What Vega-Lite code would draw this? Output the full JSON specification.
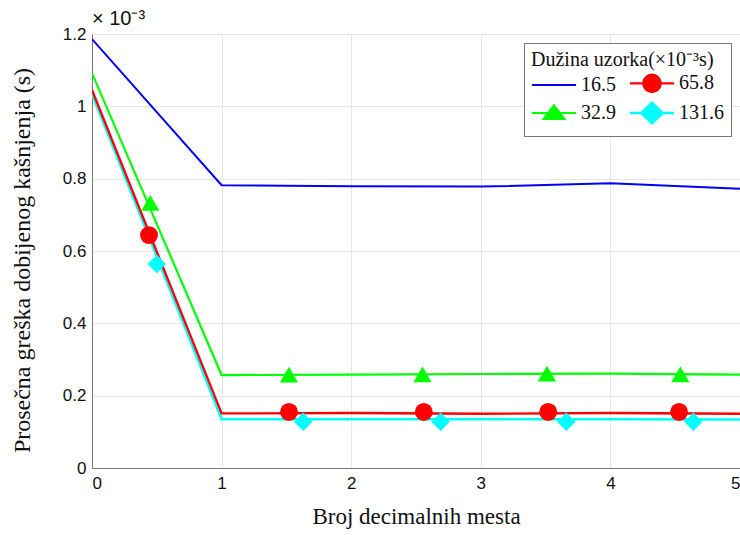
{
  "$schema": "https://vega.github.io/schema/vega-lite/v6.json",
  "width": 648,
  "height": 434,
  "autosize": {"type": "none"},
  "padding": {"left": 92, "top": 34, "right": 0, "bottom": 67},
  "background": "white",
  "config": {
    "view": {"stroke": "#777", "strokeWidth": 1},
    "axis": {
      "labelFont": "Liberation Sans",
      "labelFontSize": 17,
      "labelColor": "#111",
      "titleFont": "Liberation Serif",
      "titleFontSize": 23,
      "titleFontWeight": "normal",
      "titleColor": "#111",
      "domainColor": "#777",
      "gridColor": "#e6e6e6",
      "gridWidth": 1,
      "ticks": false
    }
  },
  "title": {
    "text": "× 10⁻³",
    "anchor": "start",
    "frame": "group",
    "font": "Liberation Sans",
    "fontSize": 20,
    "fontWeight": "normal",
    "color": "#111",
    "offset": -4
  },
  "datasets": {
    "lines": [
      {"x": 0, "y": 1.034, "series": "131.6"},
      {"x": 1, "y": 0.135, "series": "131.6"},
      {"x": 2, "y": 0.135, "series": "131.6"},
      {"x": 3, "y": 0.135, "series": "131.6"},
      {"x": 4, "y": 0.135, "series": "131.6"},
      {"x": 5, "y": 0.134, "series": "131.6"},
      {"x": 0, "y": 1.045, "series": "65.8"},
      {"x": 1, "y": 0.151, "series": "65.8"},
      {"x": 2, "y": 0.152, "series": "65.8"},
      {"x": 3, "y": 0.150, "series": "65.8"},
      {"x": 4, "y": 0.152, "series": "65.8"},
      {"x": 5, "y": 0.150, "series": "65.8"},
      {"x": 0, "y": 1.092, "series": "32.9"},
      {"x": 1, "y": 0.257, "series": "32.9"},
      {"x": 2, "y": 0.258, "series": "32.9"},
      {"x": 3, "y": 0.260, "series": "32.9"},
      {"x": 4, "y": 0.261, "series": "32.9"},
      {"x": 5, "y": 0.258, "series": "32.9"},
      {"x": 0, "y": 1.186, "series": "16.5"},
      {"x": 1, "y": 0.782, "series": "16.5"},
      {"x": 2, "y": 0.779, "series": "16.5"},
      {"x": 3, "y": 0.778, "series": "16.5"},
      {"x": 4, "y": 0.787, "series": "16.5"},
      {"x": 5, "y": 0.772, "series": "16.5"}
    ],
    "markers": [
      {"x": 0.45, "y": 0.733, "series": "32.9"},
      {"x": 1.52, "y": 0.258, "series": "32.9"},
      {"x": 2.55, "y": 0.259, "series": "32.9"},
      {"x": 3.51, "y": 0.261, "series": "32.9"},
      {"x": 4.54, "y": 0.259, "series": "32.9"},
      {"x": 0.44, "y": 0.644, "series": "65.8"},
      {"x": 1.52, "y": 0.155, "series": "65.8"},
      {"x": 2.56, "y": 0.155, "series": "65.8"},
      {"x": 3.52, "y": 0.155, "series": "65.8"},
      {"x": 4.53, "y": 0.155, "series": "65.8"},
      {"x": 0.50, "y": 0.564, "series": "131.6"},
      {"x": 1.63, "y": 0.128, "series": "131.6"},
      {"x": 2.69, "y": 0.128, "series": "131.6"},
      {"x": 3.66, "y": 0.128, "series": "131.6"},
      {"x": 4.64, "y": 0.128, "series": "131.6"}
    ]
  },
  "encoding": {
    "x": {
      "field": "x", "type": "quantitative",
      "scale": {"domain": [0, 5], "nice": false},
      "axis": {"values": [0, 1, 2, 3, 4, 5], "title": "Broj decimalnih mesta", "labelPadding": 7, "titlePadding": 14, "format": "d"}
    },
    "y": {
      "field": "y", "type": "quantitative",
      "scale": {"domain": [0, 1.2], "nice": false},
      "axis": {"values": [0, 0.2, 0.4, 0.6, 0.8, 1, 1.2], "format": ".1~f", "title": "Prosečna greška dobijenog kašnjenja (s)", "titleFont": "Liberation Serif", "titleFontSize": 24, "labelPadding": 6, "titlePadding": 28, "titleY": 226}
    },
    "color": {
      "field": "series", "type": "nominal",
      "scale": {"domain": ["16.5", "32.9", "65.8", "131.6"], "range": ["#0000ff", "#00ff00", "#ff0000", "#00ffff"]}
    }
  },
  "layer": [
    {
      "data": {"name": "lines"},
      "mark": {"type": "line", "clip": true},
      "encoding": {
        "strokeWidth": {
          "field": "series", "type": "nominal",
          "scale": {"domain": ["16.5", "32.9", "65.8", "131.6"], "range": [2, 2.5, 2, 3]},
          "legend": null
        },
        "color": {
          "field": "series", "type": "nominal",
          "legend": {
            "title": "Dužina uzorka(×10⁻³s)",
            "titleLimit": 400,
            "orient": "top-right",
            "offset": 9,
            "columns": 2,
            "columnPadding": 8,
            "rowPadding": 0,
            "padding": 7,
            "fillColor": "white",
            "strokeColor": "#777",
            "cornerRadius": 0,
            "titleFont": "Liberation Serif",
            "titleFontSize": 20,
            "titleFontWeight": "normal",
            "titleColor": "#111",
            "titlePadding": 3,
            "labelFont": "Liberation Serif",
            "labelFontSize": 20,
            "labelColor": "#111",
            "labelOffset": 17,
            "symbolOffset": 13,
            "symbolSize": 289,
            "symbolStrokeWidth": 2.5,
            "encode": {
              "symbols": {
                "update": {
                  "shape": {"signal": "datum.value == '16.5' ? 'M-2.6,0H2.6' : datum.value == '65.8' ? 'M-2.6,0H2.6M1.02,0A1.02,1.02,0,1,1,-1.02,0A1.02,1.02,0,1,1,1.02,0Z' : datum.value == '32.9' ? 'M-2.6,0H2.6M0,-0.9L1.2,0.7L-1.2,0.7Z' : 'M-2.6,0H2.6M0,-1.2L1.25,0L0,1.2L-1.25,0Z'"},
                  "fill": {"scale": "color", "field": "value"},
                  "stroke": {"scale": "color", "field": "value"},
                  "strokeWidth": {"value": 2.5},
                  "opacity": {"value": 1},
                  "fillOpacity": {"value": 1}
                }
              }
            }
          }
        }
      }
    },
    {
      "data": {"name": "markers"},
      "mark": {"type": "point", "filled": true, "opacity": 1, "clip": true},
      "encoding": {
        "shape": {
          "field": "series", "type": "nominal",
          "scale": {"domain": ["65.8", "32.9", "131.6"], "range": ["circle", "triangle-up", "diamond"]},
          "legend": null
        },
        "size": {
          "field": "series", "type": "nominal",
          "scale": {"domain": ["65.8", "32.9", "131.6"], "range": [320, 340, 450]},
          "legend": null
        }
      }
    }
  ]
}
